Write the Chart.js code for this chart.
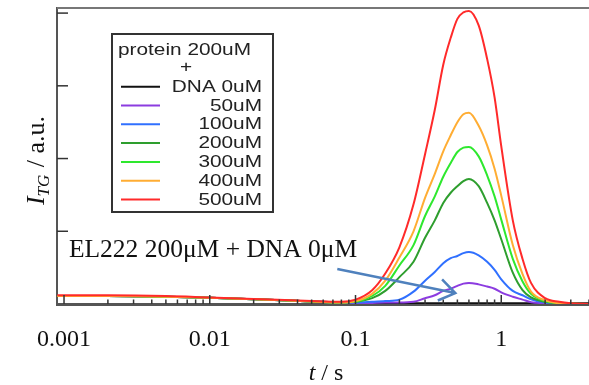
<!DOCTYPE html>
<html>
<head>
<meta charset="utf-8">
<script src="https://cdn.jsdelivr.net/npm/chart.js@4.4.0/dist/chart.umd.min.js"></script>
<style>
body{margin:0;background:#fff;}
</style>
</head>
<body>
<canvas id="myChart" width="589" height="385"></canvas>
<script>
// time points (s)
const times = [0.0009, 0.002, 0.005, 0.01, 0.02, 0.05, 0.08, 0.1, 0.13, 0.16, 0.2, 0.25, 0.3, 0.35, 0.4, 0.45, 0.5, 0.55, 0.6, 0.7, 0.8, 0.9, 1.0, 1.2, 1.4, 1.6, 2.0, 2.5, 3.0, 4.0];

// TG signal for each DNA concentration (a.u.)
const dna0   = [0.11, 0.11, 0.10, 0.085, 0.065, 0.035, 0.02, 0.01, 0.01, 0.01, 0.01, 0.01, 0.01, 0.01, 0.01, 0.01, 0.01, 0.01, 0.01, 0.01, 0.01, 0.01, 0.01, 0.01, 0.01, 0.01, 0.01, 0.01, 0.01, 0.01];
const dna50  = [0.11, 0.11, 0.10, 0.085, 0.065, 0.035, 0.02, 0.01, 0.015, 0.02, 0.02, 0.03, 0.08, 0.12, 0.18, 0.21, 0.25, 0.28, 0.29, 0.27, 0.24, 0.21, 0.16, 0.10, 0.06, 0.025, 0.01, 0, 0, 0];
const dna100 = [0.11, 0.11, 0.10, 0.085, 0.065, 0.035, 0.02, 0.02, 0.03, 0.04, 0.06, 0.17, 0.32, 0.44, 0.56, 0.63, 0.66, 0.70, 0.715, 0.67, 0.58, 0.47, 0.34, 0.18, 0.12, 0.065, 0.02, 0.01, 0, 0];
const dna200 = [0.11, 0.11, 0.10, 0.085, 0.065, 0.035, 0.02, 0.03, 0.08, 0.18, 0.37, 0.58, 0.91, 1.15, 1.39, 1.53, 1.62, 1.69, 1.72, 1.62, 1.39, 1.15, 0.89, 0.43, 0.19, 0.09, 0.03, 0.01, 0, 0];
const dna300 = [0.11, 0.11, 0.10, 0.085, 0.065, 0.035, 0.02, 0.03, 0.11, 0.25, 0.53, 0.81, 1.21, 1.48, 1.75, 1.94, 2.09, 2.15, 2.16, 2.03, 1.77, 1.48, 1.16, 0.62, 0.31, 0.14, 0.04, 0.01, 0.005, 0];
const dna400 = [0.11, 0.11, 0.10, 0.085, 0.065, 0.035, 0.02, 0.04, 0.14, 0.32, 0.64, 1.0, 1.46, 1.79, 2.10, 2.32, 2.50, 2.61, 2.63, 2.45, 2.18, 1.86, 1.49, 0.81, 0.41, 0.17, 0.05, 0.01, 0.005, 0];
const dna500 = [0.12, 0.12, 0.11, 0.09, 0.07, 0.04, 0.03, 0.06, 0.19, 0.42, 0.78, 1.37, 2.06, 2.67, 3.29, 3.66, 3.92, 4.01, 4.03, 3.83, 3.37, 2.84, 2.17, 1.15, 0.62, 0.29, 0.08, 0.03, 0.01, 0];

const seriesLabels = ['DNA 0uM', '50uM', '100uM', '200uM', '300uM', '400uM', '500uM'];
const seriesData = [dna0, dna50, dna100, dna200, dna300, dna400, dna500];
const seriesColors = ['#111111', '#8c3ce0', '#3070ff', '#2e9e2e', '#2ee82e', '#ffad33', '#ff2a2a'];
const legendTitle = ['protein 200uM', '+'];

// axes
const xMajorTicks = [0.001, 0.01, 0.1, 1];
const xTickLabels = ['0.001', '0.01', '0.1', '1'];
const yTicks = [1, 2, 3, 4];

// annotation
const noteText = 'EL222 200\u03bcM + DNA 0\u03bcM';
const notePos = {x: 0.00108, y: 0.64};
const arrowFrom = {x: 0.075, y: 0.48};
const arrowTo = {x: 0.484, y: 0.15};

const datasets = seriesData.map((vals, i) => ({
  label: seriesLabels[i],
  data: times.map((t, j) => ({x: t, y: vals[j]})),
  borderColor: seriesColors[i],
  borderWidth: 2,
  pointRadius: 0,
  fill: false,
  cubicInterpolationMode: 'monotone',
  order: seriesData.length - 1 - i   // red drawn on top
}));

function stretchText(ctx, txt, x, y, align) {
  const k = 1.3;
  const w = ctx.measureText(txt).width * k;
  let x0 = x;
  if (align === 'right') x0 = x - w;
  if (align === 'center') x0 = x - w / 2;
  ctx.save();
  ctx.translate(x0, y);
  ctx.scale(k, 1);
  ctx.textAlign = 'left';
  ctx.fillText(txt, 0, 0);
  ctx.restore();
}

const decor = {
  id: 'decor',
  afterDraw(chart) {
    const ctx = chart.ctx;
    const area = chart.chartArea;
    const xs = chart.scales.x;
    const ys = chart.scales.y;
    ctx.save();

    // top frame line
    ctx.strokeStyle = '#777';
    ctx.lineWidth = 2;
    ctx.beginPath();
    ctx.moveTo(area.left, area.top);
    ctx.lineTo(area.right, area.top);
    ctx.stroke();

    // inward ticks
    ctx.strokeStyle = '#333';
    ctx.lineWidth = 1.5;
    yTicks.forEach(v => {
      const py = ys.getPixelForValue(v);
      ctx.beginPath();
      ctx.moveTo(area.left, py);
      ctx.lineTo(area.left + 11, py);
      ctx.stroke();
    });
    xMajorTicks.forEach(d => {
      const px = xs.getPixelForValue(d);
      ctx.beginPath();
      ctx.moveTo(px, area.bottom);
      ctx.lineTo(px, area.bottom - 9);
      ctx.stroke();
      for (let k = 2; k <= 9; k++) {
        const v = d * k;
        if (v > xs.max) break;
        const pm = xs.getPixelForValue(v);
        ctx.beginPath();
        ctx.moveTo(pm, area.bottom);
        ctx.lineTo(pm, area.bottom - 4.5);
        ctx.stroke();
      }
    });

    // legend box
    ctx.strokeStyle = '#333';
    ctx.lineWidth = 2;
    ctx.strokeRect(112, 34, 161, 178);
    ctx.fillStyle = '#222';
    ctx.font = '16px "Liberation Sans"';
    ctx.textBaseline = 'alphabetic';
    stretchText(ctx, legendTitle[0], 118, 55, 'left');
    stretchText(ctx, legendTitle[1], 186, 72, 'center');
    seriesLabels.forEach((lab, i) => {
      const by = 91.7 + i * 18.8;
      ctx.strokeStyle = seriesColors[i];
      ctx.lineWidth = 2;
      ctx.beginPath();
      ctx.moveTo(121, by - 5);
      ctx.lineTo(160, by - 5);
      ctx.stroke();
      stretchText(ctx, lab, 262, by, 'right');
    });

    // annotation text and arrow
    ctx.fillStyle = '#111';
    ctx.font = '25.5px "Liberation Serif"';
    ctx.textAlign = 'left';
    ctx.fillText(noteText, xs.getPixelForValue(notePos.x), ys.getPixelForValue(notePos.y));
    const ax0 = xs.getPixelForValue(arrowFrom.x), ay0 = ys.getPixelForValue(arrowFrom.y);
    const ax1 = xs.getPixelForValue(arrowTo.x), ay1 = ys.getPixelForValue(arrowTo.y);
    const ang = Math.atan2(ay1 - ay0, ax1 - ax0);
    ctx.strokeStyle = '#4f81bd';
    ctx.lineWidth = 2.5;
    ctx.beginPath();
    ctx.moveTo(ax0, ay0);
    ctx.lineTo(ax1, ay1);
    ctx.moveTo(ax1 - 19 * Math.cos(ang - 0.6), ay1 - 19 * Math.sin(ang - 0.6));
    ctx.lineTo(ax1, ay1);
    ctx.lineTo(ax1 - 19 * Math.cos(ang + 0.6), ay1 - 19 * Math.sin(ang + 0.6));
    ctx.stroke();

    // x title: t / s
    ctx.fillStyle = '#111';
    const cx = (area.left + area.right) / 2 + 3;
    ctx.font = 'italic 24px "Liberation Serif"';
    const wt = ctx.measureText('t').width;
    ctx.font = '24px "Liberation Serif"';
    const ws = ctx.measureText(' / s').width;
    let x = cx - (wt + ws) / 2;
    ctx.font = 'italic 24px "Liberation Serif"';
    ctx.fillText('t', x, 380);
    ctx.font = '24px "Liberation Serif"';
    ctx.fillText(' / s', x + wt, 380);

    // y title: I_TG / a.u.
    ctx.translate(44, 161);
    ctx.rotate(-Math.PI / 2);
    ctx.font = 'italic 26px "Liberation Serif"';
    const w1 = ctx.measureText('I').width;
    ctx.font = 'italic 17px "Liberation Serif"';
    const w2 = ctx.measureText('TG').width;
    ctx.font = '26px "Liberation Serif"';
    const w3 = ctx.measureText(' / a.u.').width;
    x = -(w1 + w2 + w3) / 2;
    ctx.font = 'italic 26px "Liberation Serif"';
    ctx.fillText('I', x, 0);
    ctx.font = 'italic 17px "Liberation Serif"';
    ctx.fillText('TG', x + w1, 5);
    ctx.font = '26px "Liberation Serif"';
    ctx.fillText(' / a.u.', x + w1 + w2 + 1, 0);

    ctx.restore();
  }
};

new Chart(document.getElementById('myChart'), {
  type: 'line',
  data: {datasets: datasets},
  options: {
    responsive: false,
    animation: false,
    devicePixelRatio: 1,
    layout: {padding: {top: 8, right: 0, left: 0, bottom: 0}},
    plugins: {legend: {display: false}, tooltip: {enabled: false}},
    scales: {
      x: {
        type: 'logarithmic',
        min: 0.000895,
        max: 4,
        afterFit: s => { s.height = 81; },
        afterBuildTicks: s => { s.ticks = xMajorTicks.map(v => ({value: v})); },
        ticks: {
          autoSkip: false,
          maxRotation: 0,
          padding: 13,
          color: '#111',
          font: {family: 'Liberation Serif', size: 24},
          callback: v => xTickLabels[xMajorTicks.indexOf(v)]
        },
        grid: {display: false},
        border: {display: true, color: '#555', width: 3}
      },
      y: {
        type: 'linear',
        min: 0,
        max: 4.07,
        afterFit: s => { s.width = 57; },
        ticks: {display: false},
        grid: {display: false},
        border: {display: true, color: '#555', width: 2}
      }
    }
  },
  plugins: [decor]
});
</script>
</body>
</html>
